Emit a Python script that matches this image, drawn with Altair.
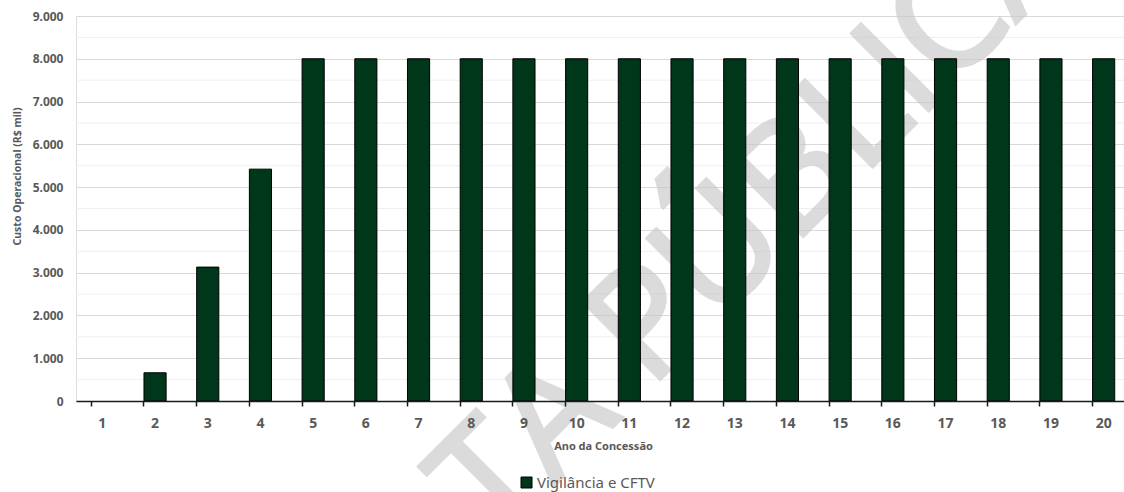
import altair as alt
import pandas as pd

# Anos da concessão e custo operacional anual (R$ mil)
anos = ["1", "2", "3", "4", "5", "6", "7", "8", "9", "10",
        "11", "12", "13", "14", "15", "16", "17", "18", "19", "20"]
custos = [0, 660, 3130, 5420, 8000, 8000, 8000, 8000, 8000, 8000,
          8000, 8000, 8000, 8000, 8000, 8000, 8000, 8000, 8000, 8000]
serie = "Vigilância e CFTV"

# Marcas principais e linhas de grade secundárias do eixo Y
ticks_y = [0, 1000, 2000, 3000, 4000, 5000, 6000, 7000, 8000, 9000]
grade_menor = [500, 1500, 2500, 3500, 4500, 5500, 6500, 7500, 8500]

marca_dagua = "CONSULTA PÚBLICA"

VERDE = "#00361a"
CINZA = "#595959"
FONTE = "Noto Sans"

df = pd.DataFrame({"ano": anos, "custo": custos, "serie": [serie] * len(anos)})
df_grade = pd.DataFrame({"v": grade_menor})
df_marca = pd.DataFrame({"t": [marca_dagua]})

escala_y = alt.Scale(domain=[0, 9000], nice=False)

eixo_y = alt.Axis(
    title="Custo Operacional (R$ mil)",
    values=ticks_y,
    labelExpr="replace(format(datum.value, ','), ',', '.')",
    domain=False,
    ticks=False,
    tickSize=0,
    grid=True,
    gridColor="#d9d9d9",
    gridWidth=1,
    labelFont=FONTE,
    labelFontSize=12,
    labelFontWeight="bold",
    labelColor=CINZA,
    labelPadding=13,
    titleFont=FONTE,
    titleFontSize=10.5,
    titleFontWeight="bold",
    titleColor=CINZA,
    titleAngle=270,
    titleAlign="center",
    titleBaseline="middle",
    titleX=-59,
    titleY=160,
)

# Linhas de grade secundárias (a cada 500)
grade = alt.Chart(df_grade).mark_rule(color="#efefef", strokeWidth=1).encode(
    y=alt.Y("v:Q", scale=escala_y, axis=eixo_y)
)

# Marca d'água em diagonal, atrás das barras
marca = alt.Chart(df_marca).mark_text(
    angle=315, fontSize=152, font="Open Sans", color="#c8c8c8",
    stroke="#c8c8c8", strokeWidth=4, opacity=0.65,
    align="center", baseline="middle"
).encode(
    text="t:N",
    x=alt.value(468),
    y=alt.value(414),
)

barras = alt.Chart(df).mark_bar(stroke="black", strokeWidth=1).encode(
    x=alt.X(
        "ano:N",
        sort=anos,
        scale=alt.Scale(range=[0, 1054], paddingInner=0.58, paddingOuter=0.29),
        axis=alt.Axis(
            title="Ano da Concessão",
            labelAngle=0,
            bandPosition=0,
            grid=False,
            zindex=1,
            domainColor="#1a1a1a",
            domainWidth=1.5,
            tickColor="#1a1a1a",
            tickWidth=1.5,
            tickSize=5,
            labelFont=FONTE,
            labelFontSize=14,
            labelFontWeight="bold",
            labelColor=CINZA,
            labelBaseline="alphabetic",
            labelPadding=21,
            titleFont=FONTE,
            titleFontSize=11,
            titleFontWeight="bold",
            titleColor=CINZA,
            titleBaseline="alphabetic",
            titleY=48,
        ),
    ),
    y=alt.Y("custo:Q", scale=escala_y, axis=eixo_y),
    strokeOpacity=alt.condition("datum.custo > 0", alt.value(1), alt.value(0)),
    color=alt.Color(
        "serie:N",
        scale=alt.Scale(domain=[serie], range=[VERDE]),
        legend=alt.Legend(
            title=None,
            orient="none",
            legendX=443,
            legendY=459,
            padding=0,
            symbolType="square",
            symbolSize=121,
            symbolStrokeColor="black",
            symbolStrokeWidth=1,
            symbolOpacity=1,
            labelFont=FONTE,
            labelFontSize=15,
            labelColor=CINZA,
            labelOffset=3,
        ),
    ),
)

chart = alt.layer(grade, marca, barras).properties(
    width=1048,
    height=385,
    autosize=alt.AutoSizeParams(type="none"),
    padding={"left": 76, "top": 16, "right": 0, "bottom": 91},
).configure_view(stroke=None).configure(background="white")

chart.save("out.html", embed_options={"renderer": "svg", "actions": False})
